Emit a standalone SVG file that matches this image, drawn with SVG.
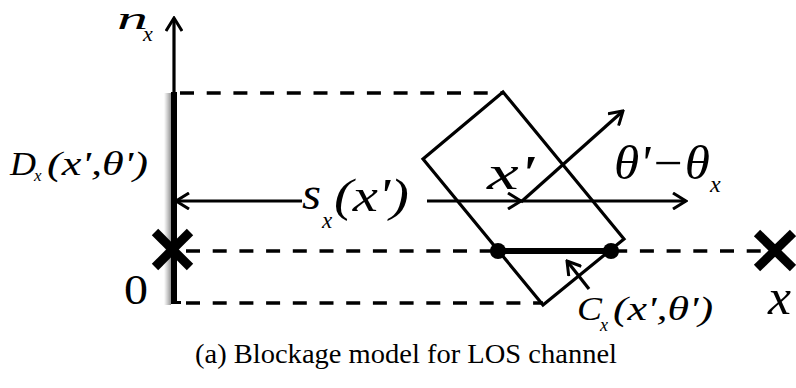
<svg xmlns="http://www.w3.org/2000/svg" width="796" height="388" viewBox="0 0 796 388">
<style>
.ln{stroke:#000;stroke-width:3.2;fill:none;stroke-linecap:butt}
.dash{stroke:#000;stroke-width:3.5;fill:none;stroke-dasharray:14 12.7}
.cross{stroke:#000;stroke-width:9;stroke-linecap:butt}
text{font-family:'Liberation Serif','Times New Roman',serif;fill:#000}
.mi{font-style:italic}
</style>
<defs>
<marker id="chev" viewBox="0 0 16 18" refX="14" refY="9" markerWidth="16" markerHeight="18" markerUnits="userSpaceOnUse" orient="auto">
<path d="M1,1 L14,9 L1,17" fill="none" stroke="#000" stroke-width="3"/>
</marker>
<linearGradient id="shad" x1="0" y1="0" x2="1" y2="0">
<stop offset="0" stop-color="#888" stop-opacity="0"/>
<stop offset="1" stop-color="#777" stop-opacity="0.8"/>
</linearGradient>
</defs>
<rect width="796" height="388" fill="#fff"/>

<g id="guides">
<line class="dash" x1="180" y1="93" x2="503" y2="93"/>
<line class="dash" x1="186" y1="251" x2="762" y2="251"/>
<line class="dash" x1="186" y1="303" x2="543" y2="303"/>
</g>

<g id="axis">
<rect x="164" y="93" width="7" height="212" fill="url(#shad)"/>
<line class="ln" x1="174" y1="303" x2="174" y2="18" marker-end="url(#chev)"/>
<line x1="174" y1="92" x2="174" y2="304" stroke="#000" stroke-width="6"/>
<line x1="171" y1="302.5" x2="181" y2="302.5" stroke="#000" stroke-width="3"/>
</g>

<g id="blocker">
<polygon class="ln" points="503,92 624,239 543,305 423,159" stroke-linejoin="miter"/>
</g>

<g id="segment">
<line x1="498" y1="251" x2="611" y2="251" stroke="#000" stroke-width="6"/>
<circle cx="498" cy="251" r="8" fill="#000"/>
<circle cx="611" cy="251" r="8" fill="#000"/>
</g>

<g id="tx">
<line class="cross" x1="155" y1="232" x2="190" y2="267"/>
<line class="cross" x1="190" y1="232" x2="155" y2="267"/>
</g>
<g id="rx">
<line class="cross" x1="757" y1="233" x2="793" y2="268"/>
<line class="cross" x1="793" y1="233" x2="757" y2="268"/>
</g>

<g id="connectors">
<line class="ln" x1="302" y1="201" x2="176" y2="201" marker-end="url(#chev)"/>
<line class="ln" x1="427" y1="201" x2="521" y2="201" marker-end="url(#chev)"/>
<line class="ln" x1="519" y1="201" x2="686" y2="201" marker-end="url(#chev)"/>
<line class="ln" x1="521" y1="202" x2="623" y2="111" marker-end="url(#chev)"/>
<line class="ln" x1="589" y1="289" x2="567" y2="261" marker-end="url(#chev)"/>
</g>

<g id="labels">
<text class="mi"><tspan x="117" y="29" font-size="32" textLength="31" lengthAdjust="spacingAndGlyphs">n</tspan><tspan x="143" y="41" font-size="22">x</tspan></text>
<text class="mi"><tspan x="10" y="175" font-size="33" textLength="26" lengthAdjust="spacingAndGlyphs">D</tspan><tspan x="34" y="181" font-size="17">x</tspan><tspan x="47" y="175" font-size="33" textLength="101" lengthAdjust="spacingAndGlyphs">(x',θ')</tspan></text>
<text x="124" y="304" font-size="42" textLength="24" lengthAdjust="spacingAndGlyphs">0</text>
<text class="mi"><tspan x="302" y="209" font-size="46" textLength="19" lengthAdjust="spacingAndGlyphs">s</tspan><tspan x="322" y="228" font-size="23">x</tspan><tspan x="334" y="211" font-size="46" textLength="75" lengthAdjust="spacingAndGlyphs">(x')</tspan></text>
<text class="mi" x="487" y="189" font-size="48" textLength="47" lengthAdjust="spacingAndGlyphs">x'</text>
<text class="mi"><tspan x="614" y="179" font-size="48" textLength="96" lengthAdjust="spacingAndGlyphs">θ'−θ</tspan><tspan x="710" y="192" font-size="24">x</tspan></text>
<text class="mi"><tspan x="577" y="320" font-size="34" textLength="25" lengthAdjust="spacingAndGlyphs">C</tspan><tspan x="600" y="331" font-size="18">x</tspan><tspan x="613" y="320" font-size="34" textLength="100" lengthAdjust="spacingAndGlyphs">(x',θ')</tspan></text>
<text class="mi" x="768" y="314" font-size="50" textLength="23" lengthAdjust="spacingAndGlyphs">x</text>
<text x="195" y="363" font-size="27" textLength="422" lengthAdjust="spacingAndGlyphs">(a) Blockage model for LOS channel</text>
</g>
</svg>
